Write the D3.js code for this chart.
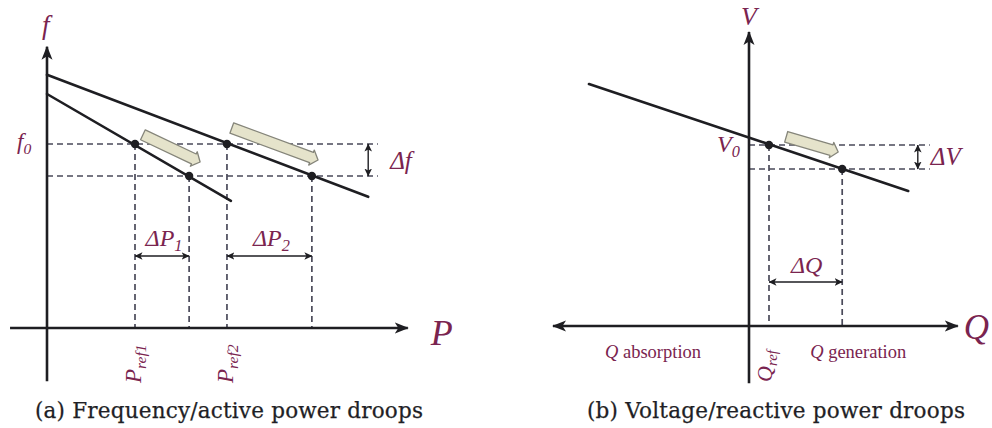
<!DOCTYPE html>
<html>
<head>
<meta charset="utf-8">
<script src="https://cdn.jsdelivr.net/npm/d3@7"></script>
<style>
  html, body { margin: 0; padding: 0; background: #ffffff; }
  svg { display: block; }
</style>
</head>
<body>
<svg id="chart" width="992" height="428"></svg>
<script>
// ---- (a) frequency / active power droop ----
const pRefs = [2.0, 4.09];            // P_ref1, P_ref2
const pShifted = [3.23, 6.02];        // operating points after the frequency drop
const fLevels = [4.6, 3.8];           // f0 and f0 - Δf
const pDroopStartF = [5.85, 6.33];    // f at P = 0 for each droop line
const pDroopEnd = [[4.18, 3.18], [7.3, 3.28]];   // [P, f] end of each droop line
const pAxisRange = [-0.84, 8.2];
const fAxisRange = [-1.33, 7.03];
const pDeltaLabels = ["1", "2"];
const pRefLabels = ["ref1", "ref2"];
const pMoveArrows = [[[2.18, 4.83], [3.48, 4.15]], [[4.2, 5.0], [6.16, 4.2]]];

// ---- (b) voltage / reactive power droop ----
const qRef = 0.5;
const qShifted = 2.33;
const vLevels = [4.525, 3.925];       // V0 and V0 - ΔV
const qDroopLine = [[-4.0, 6.05], [3.98, 3.375]];
const qAxisRange = [-4.9, 5.22];
const vAxisRange = [-1.43, 7.35];
const qMoveArrow = [[0.93, 4.73], [2.23, 4.35]];
const qRegionLabels = ["absorption", "generation"];

const captions = ["(a) Frequency/active power droops", "(b) Voltage/reactive power droops"];

const ink = "#1e1e22";
const labelColor = "#7a244f";
const dashColor = "#4a4a5a";

const svg = d3.select("#chart");

// scales
const xP = d3.scaleLinear().domain([0, 1]).range([47, 91]);
const yF = d3.scaleLinear().domain([0, 1]).range([328, 288]);
const xQ = d3.scaleLinear().domain([0, 1]).range([749, 789]);
const yV = d3.scaleLinear().domain([0, 1]).range([326, 286]);

// arrowhead markers
const defs = svg.append("defs");
defs.append("marker")
  .attr("id", "axisHead").attr("viewBox", "0 -6 14 12")
  .attr("refX", 13).attr("refY", 0)
  .attr("markerWidth", 14).attr("markerHeight", 12)
  .attr("markerUnits", "userSpaceOnUse").attr("orient", "auto-start-reverse")
  .append("path").attr("d", "M0,-5.5 L14,0 L0,5.5 L3.5,0 Z").attr("fill", ink);
defs.append("marker")
  .attr("id", "dimHead").attr("viewBox", "0 -4 8 8")
  .attr("refX", 7.5).attr("refY", 0)
  .attr("markerWidth", 8).attr("markerHeight", 8)
  .attr("markerUnits", "userSpaceOnUse").attr("orient", "auto-start-reverse")
  .append("path").attr("d", "M0,-3.8 L8,0 L0,3.8 L2,0 Z").attr("fill", ink);

function axisLine(x1, y1, x2, y2, both) {
  const l = svg.append("line")
    .attr("x1", x1).attr("y1", y1).attr("x2", x2).attr("y2", y2)
    .attr("stroke", ink).attr("stroke-width", 2.6)
    .attr("marker-end", "url(#axisHead)");
  if (both) l.attr("marker-start", "url(#axisHead)");
}
function dashed(x1, y1, x2, y2) {
  svg.append("line")
    .attr("x1", x1).attr("y1", y1).attr("x2", x2).attr("y2", y2)
    .attr("stroke", dashColor).attr("stroke-width", 1.7)
    .attr("stroke-dasharray", "6,4");
}
function dimArrow(x1, y1, x2, y2) {
  svg.append("line")
    .attr("x1", x1).attr("y1", y1).attr("x2", x2).attr("y2", y2)
    .attr("stroke", ink).attr("stroke-width", 1.4)
    .attr("marker-start", "url(#dimHead)").attr("marker-end", "url(#dimHead)");
}
function droop(x1, y1, x2, y2) {
  svg.append("line")
    .attr("x1", x1).attr("y1", y1).attr("x2", x2).attr("y2", y2)
    .attr("stroke", ink).attr("stroke-width", 2.6).attr("stroke-linecap", "round");
}
function dot(x, y) {
  svg.append("circle").attr("cx", x).attr("cy", y).attr("r", 4.2).attr("fill", ink);
}
function blockArrow(x1, y1, x2, y2) {
  const len = Math.hypot(x2 - x1, y2 - y1);
  const ang = Math.atan2(y2 - y1, x2 - x1) * 180 / Math.PI;
  const bw = 5.5, hw = 8, hl = 7;
  const d = `M0,${-bw} L${len - hl},${-bw} L${len - hl},${-hw} L${len},0 L${len - hl},${hw} L${len - hl},${bw} L0,${bw} Z`;
  svg.append("path")
    .attr("d", d)
    .attr("transform", `translate(${x1},${y1}) rotate(${ang})`)
    .attr("fill", "#e5e3cb").attr("stroke", "#85857a").attr("stroke-width", 1.3)
    .attr("stroke-linejoin", "round");
}
function mathText(x, y, size, parts, anchor, transform) {
  const t = svg.append("text")
    .attr("x", x).attr("y", y)
    .attr("font-family", "'Liberation Serif', 'Times New Roman', serif")
    .attr("font-style", "italic").attr("font-size", size)
    .attr("fill", labelColor).attr("text-anchor", anchor || "start");
  if (transform) t.attr("transform", transform);
  parts.forEach(p => {
    const s = t.append("tspan").text(p.t);
    if (p.sub) s.attr("font-size", size * 0.68).attr("dy", size * 0.22);
    if (p.up) s.attr("font-style", "normal");
  });
  return t;
}

// ================= panel (a) =================
// guide lines
fLevels.forEach(f => dashed(xP(0), yF(f), xP(7.52), yF(f)));
pRefs.forEach(p => dashed(xP(p), yF(fLevels[0]), xP(p), yF(0)));
pShifted.forEach(p => dashed(xP(p), yF(fLevels[1]), xP(p), yF(0)));

// axes
axisLine(xP(pAxisRange[0]), yF(0), xP(pAxisRange[1]), yF(0), false);
axisLine(xP(0), yF(fAxisRange[0]), xP(0), yF(fAxisRange[1]), false);

// droop characteristics
pDroopStartF.forEach((f, i) => droop(xP(0), yF(f), xP(pDroopEnd[i][0]), yF(pDroopEnd[i][1])));

// shift arrows
pMoveArrows.forEach(a => blockArrow(xP(a[0][0]), yF(a[0][1]), xP(a[1][0]), yF(a[1][1])));

// operating points
pRefs.forEach(p => dot(xP(p), yF(fLevels[0])));
pShifted.forEach(p => dot(xP(p), yF(fLevels[1])));

// dimensions
dimArrow(xP(7.3), yF(fLevels[0]), xP(7.3), yF(fLevels[1]));
pRefs.forEach((p, i) => dimArrow(xP(p), yF(1.8), xP(pShifted[i]), yF(1.8)));

// labels
mathText(xP(0) - 5, 34, 27, [{t: "f"}], "start");
mathText(17, yF(fLevels[0]) + 5, 23, [{t: "f"}, {t: "0", sub: true}]);
mathText(xP(7.3) + 22, yF(4.2) + 9, 25, [{t: "Δf"}]);
pRefs.forEach((p, i) => mathText((xP(p) + xP(pShifted[i])) / 2 + 2, yF(1.8) - 10, 24,
  [{t: "ΔP"}, {t: pDeltaLabels[i], sub: true}], "middle"));
mathText(xP(pAxisRange[1]) + 23, yF(0) + 17, 36, [{t: "P"}]);
pRefs.forEach((p, i) => mathText(0, 0, 23, [{t: "P"}, {t: pRefLabels[i], sub: true}], "start",
  `translate(${xP(p) + 6},${yF(0) + 55}) rotate(-90)`));

// ================= panel (b) =================
vLevels.forEach(v => dashed(xQ(0), yV(v), xQ(4.52), yV(v)));
dashed(xQ(qRef), yV(vLevels[0]), xQ(qRef), yV(0));
dashed(xQ(qShifted), yV(vLevels[1]), xQ(qShifted), yV(0));

axisLine(xQ(qAxisRange[0]), yV(0), xQ(qAxisRange[1]), yV(0), true);
axisLine(xQ(0), yV(vAxisRange[0]), xQ(0), yV(vAxisRange[1]), false);

droop(xQ(qDroopLine[0][0]), yV(qDroopLine[0][1]), xQ(qDroopLine[1][0]), yV(qDroopLine[1][1]));
blockArrow(xQ(qMoveArrow[0][0]), yV(qMoveArrow[0][1]), xQ(qMoveArrow[1][0]), yV(qMoveArrow[1][1]));
dot(xQ(qRef), yV(vLevels[0]));
dot(xQ(qShifted), yV(vLevels[1]));

dimArrow(xQ(4.22), yV(vLevels[0]), xQ(4.22), yV(vLevels[1]));
dimArrow(xQ(qRef), yV(1.1), xQ(qShifted), yV(1.1));

mathText(xQ(0), 25, 26, [{t: "V"}], "middle");
mathText(xQ(0) - 32, yV(vLevels[0]) + 7, 24, [{t: "V"}, {t: "0", sub: true}]);
mathText(xQ(4.22) + 13, yV(4.25) + 9, 25, [{t: "ΔV"}]);
mathText((xQ(qRef) + xQ(qShifted)) / 2 + 1, yV(1.1) - 9, 24, [{t: "ΔQ"}], "middle");
mathText(xQ(qAxisRange[1]) + 6, yV(0) + 13, 35, [{t: "Q"}]);
mathText(0, 0, 22, [{t: "Q"}, {t: "ref", sub: true}], "start",
  `translate(${xQ(qRef) + 3},${yV(0) + 56}) rotate(-90)`);
mathText(xQ(-2.4), yV(0) + 32, 18.5, [{t: "Q "}, {t: qRegionLabels[0], up: true}], "middle");
mathText(xQ(2.73), yV(0) + 32, 18.5, [{t: "Q "}, {t: qRegionLabels[1], up: true}], "middle");

// captions
const captionX = [35, 587];
const captionLen = [388, 378];
svg.selectAll("text.caption").data(captions).enter().append("text")
  .attr("class", "caption")
  .attr("x", (d, i) => captionX[i])
  .attr("y", 418)
  .attr("font-family", "'DejaVu Serif', serif")
  .attr("font-size", 21.5)
  .attr("fill", "#1f1f26")
  .attr("stroke", "#1f1f26").attr("stroke-width", 0.25)
  .attr("textLength", (d, i) => captionLen[i])
  .attr("lengthAdjust", "spacing")
  .text(d => d);
</script>
</body>
</html>
